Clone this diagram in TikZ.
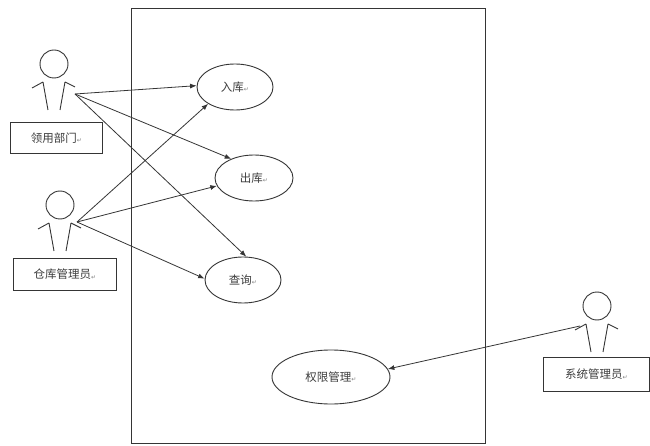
\documentclass[tikz,border=0pt]{standalone}
\usepackage{fontspec}
\setmainfont{Noto Sans CJK SC}
\newfontfamily\symfont{DejaVu Sans}
\usetikzlibrary{shapes.geometric,arrows.meta}
\definecolor{ink}{HTML}{353535}
\definecolor{txt}{HTML}{3C3C3C}
\newcommand{\pmark}{{\symfont\fontsize{6}{6}\selectfont\color{gray}\raisebox{-0.5pt}{↵}}}
\tikzset{
  x=1pt, y=-1pt,
  every node/.style={font=\fontsize{11.5}{13}\selectfont, text=txt},
  usecase/.style={draw=ink, line width=0.9pt, ellipse, inner sep=0pt, minimum width=#1, minimum height=46pt},
  usecase/.default=76pt,
  labelbox/.style={draw=ink, line width=0.9pt, rectangle, inner sep=0pt},
  assoc/.style={draw=ink, line width=0.8pt, -{Latex[length=6.5pt,width=5pt]}},
  actor/.pic={
    \draw[ink, line width=0.9pt] (0,0) circle[radius=14];
    \draw[ink, line width=0.9pt] (-11,18) -- (-6,46) (11,18) -- (6,46)
      (-11,18) -- (-22,24) (11,18) -- (21,23);
  }
}
\begin{document}
\begin{tikzpicture}
\useasboundingbox (0,0) rectangle (650,446);
\fill[white] (0,0) rectangle (650,446);
% system boundary
\node[draw=ink, line width=1pt, rectangle, inner sep=0pt, minimum width=354pt, minimum height=435pt, anchor=north west] (sys) at (131,8) {};
% actors
\pic at (54,64) {actor};
\pic at (60,205) {actor};
\pic at (597,306) {actor};
\coordinate (a1) at (75,94);
\coordinate (a2) at (77,222);
\coordinate (a3) at (580,326);
% labels
\node[labelbox, minimum width=92pt, minimum height=31pt, anchor=north west] (l1) at (10,122) {领用部门\pmark};
\node[labelbox, minimum width=103pt, minimum height=32pt, anchor=north west] (l2) at (13,258) {仓库管理员\pmark};
\node[labelbox, minimum width=106pt, minimum height=34pt, anchor=north west] (l3) at (543,357) {系统管理员\pmark};
% use cases
\node[usecase=76pt] (u1) at (235,87) {入库\pmark};
\node[usecase=78pt] (u2) at (254,178) {出库\pmark};
\node[usecase=76pt] (u3) at (243,280) {查询\pmark};
\node[usecase=118pt, minimum height=54pt] (u4) at (331,377) {权限管理\pmark};
% associations
\draw[assoc] (a1) -- (u1.178);
\draw[assoc] (a1) -- (u2.140);
\draw[assoc] (a1) -- (u3.82);
\draw[assoc] (a2) -- (u1.212);
\draw[assoc] (a2) -- (u2.192);
\draw[assoc] (a2) -- (u3.178);
\draw[assoc] (a3) -- (u4.8);
\end{tikzpicture}
\end{document}
